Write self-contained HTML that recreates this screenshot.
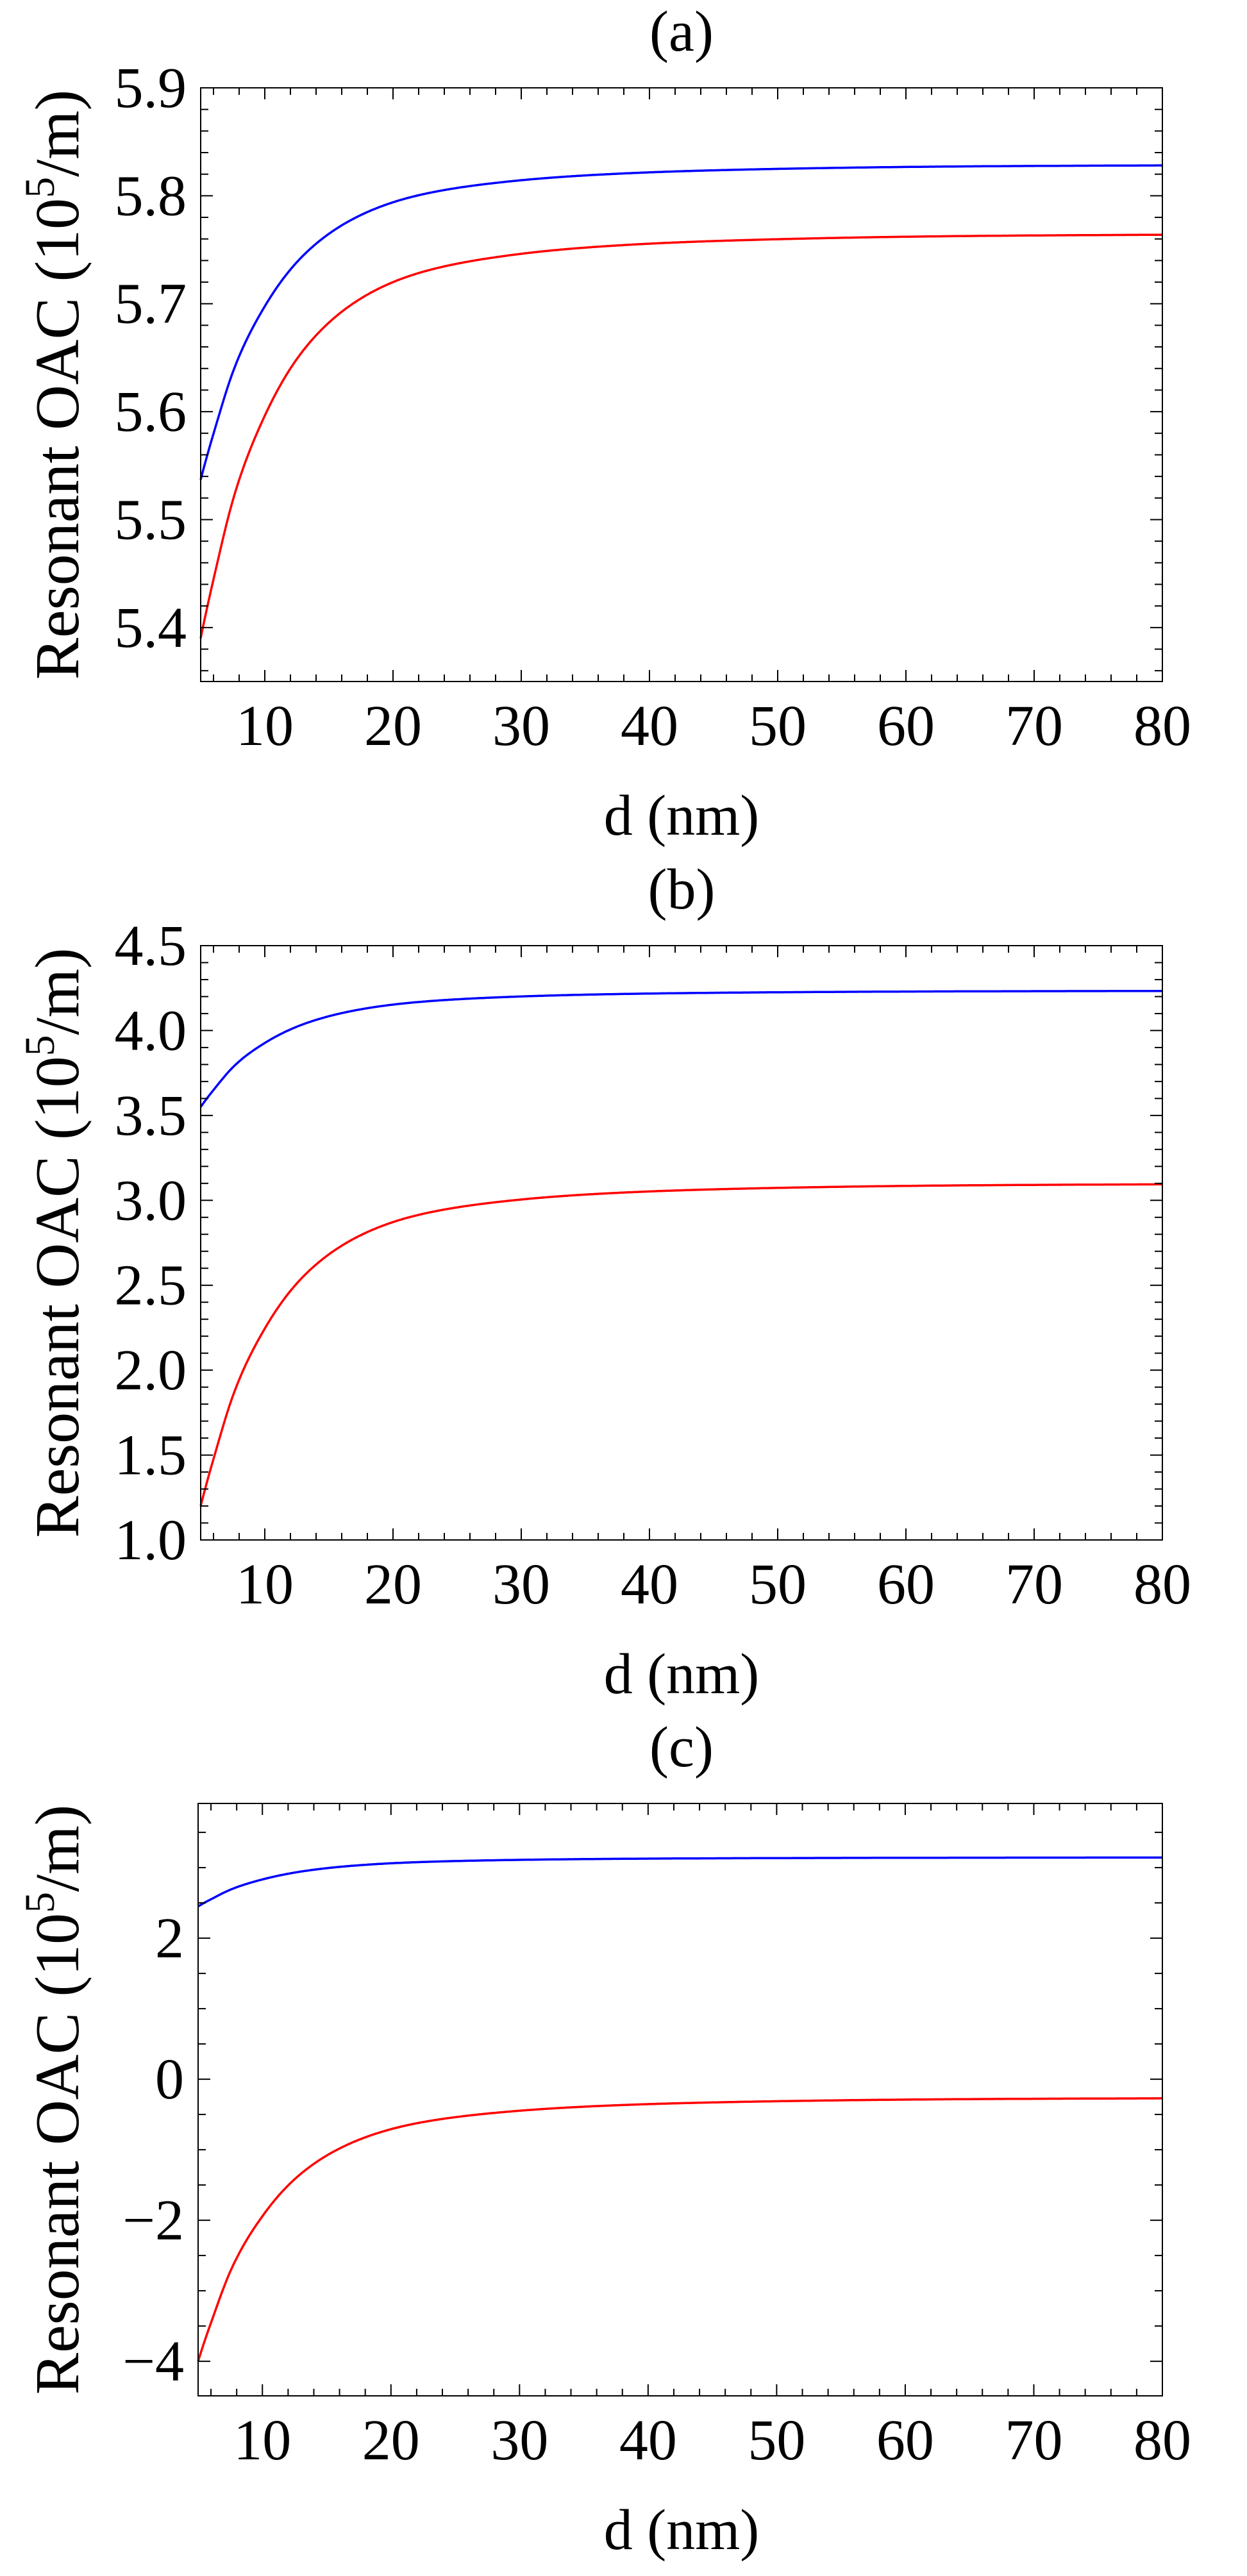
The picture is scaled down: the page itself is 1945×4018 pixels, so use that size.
<!DOCTYPE html>
<html><head><meta charset="utf-8"><style>
html,body{margin:0;padding:0;background:#fff;}
svg{display:block;}
text{font-family:"Liberation Serif",serif;fill:#000;}
</style></head><body>
<svg id="s" width="1945" height="4018" viewBox="0 0 1945 4018" xmlns="http://www.w3.org/2000/svg"></svg>
<script>
const S=document.getElementById('s');
let out='';
function mono(pts,X){
  const n=pts.length,xs=pts.map(p=>p[0]),ys=pts.map(p=>p[1]);
  const d=[],m=[];
  for(let i=0;i<n-1;i++)d.push((ys[i+1]-ys[i])/(xs[i+1]-xs[i]));
  m[0]=d[0];m[n-1]=d[n-2];
  for(let i=1;i<n-1;i++){m[i]=(d[i-1]*d[i]<=0)?0:(d[i-1]*(xs[i+1]-xs[i])+d[i]*(xs[i]-xs[i-1]))/(xs[i+1]-xs[i-1]);}
  for(let i=0;i<n-1;i++){if(d[i]==0){m[i]=m[i+1]=0;continue;}const a=m[i]/d[i],b=m[i+1]/d[i],h=a*a+b*b;if(h>9){const t=3/Math.sqrt(h);m[i]=t*a*d[i];m[i+1]=t*b*d[i];}}
  let i=0;while(i<n-2&&X>xs[i+1])i++;
  const h=xs[i+1]-xs[i],t=(X-xs[i])/h,t2=t*t,t3=t2*t;
  return (2*t3-3*t2+1)*ys[i]+(t3-2*t2+t)*h*m[i]+(-2*t3+3*t2)*ys[i+1]+(t3-t2)*h*m[i+1];
}
// build points from asymptote and deficit profile (log-interpolated for smoothness)
function prof(Yinf,sign,dp){
  const lp=dp.map(p=>[p[0],Math.log(p[1])]);
  return X=>Yinf-sign*Math.exp(mono(lp,X));
}
function plot(o){
  const L=o.L,R=1813,T=o.T,B=o.B;
  const sx=x=>L+(x-5)*(R-L)/75, sy=y=>B-(y-o.ymin)*(B-T)/(o.ymax-o.ymin);
  let g='';
  for(const c of o.curves){
    let p='';
    for(let X=5;X<=80.001;X+=0.1){p+=(p?'L':'M')+sx(X).toFixed(1)+','+sy(c.f(X)).toFixed(1);}
    g+=`<path d="${p}" fill="none" stroke="${c.col}" stroke-width="3.5"/>`;
  }
  g+=`<rect x="${L}" y="${T}" width="${R-L}" height="${B-T}" fill="none" stroke="#000" stroke-width="2"/>`;
  for(let x=6;x<=80;x+=2){const X=sx(x),maj=x%10==0,len=maj?18:11;
    g+=`<line x1="${X}" y1="${B}" x2="${X}" y2="${B-len}" stroke="#000" stroke-width="2"/><line x1="${X}" y1="${T}" x2="${X}" y2="${T+len}" stroke="#000" stroke-width="2"/>`;
    if(maj)g+=`<text x="${X}" y="${B+99}" font-size="90" text-anchor="middle">${x}</text>`;}
  const nmin=Math.ceil(o.ymin/o.minor-1e-6),nmax=Math.floor(o.ymax/o.minor+1e-6);
  for(let k=nmin;k<=nmax;k++){const v=k*o.minor,Y=sy(v);const r=v/o.major;const maj=Math.abs(r-Math.round(r))<1e-6;const len=maj?19:12;
    g+=`<line x1="${L}" y1="${Y}" x2="${L+len}" y2="${Y}" stroke="#000" stroke-width="2"/><line x1="${R}" y1="${Y}" x2="${R-len}" y2="${Y}" stroke="#000" stroke-width="2"/>`;
    if(maj){g+=`<text x="${L-22}" y="${Y+30}" font-size="90" text-anchor="end">${o.fmt(v)}</text>`;}}
  g+=`<text x="1063" y="${B+239}" font-size="90" text-anchor="middle">d (nm)</text>`;
  g+=`<text x="1063" y="${T-58}" font-size="90" text-anchor="middle">${o.title}</text>`;
  const cy=(T+B)/2;
  g+=`<text transform="translate(122,${cy}) rotate(-90)" font-size="98" text-anchor="middle">Resonant OAC (10<tspan dy="-38" font-size="66">5</tspan><tspan dy="38">/m)</tspan></text>`;
  out+=g;
}
const dpA=[[5,1],[6.25,0.82],[7.5,0.66],[10,0.45],[12.5,0.31],[15,0.22],[20,0.12],[30,0.05],[40,0.025],[50,0.014],[65,0.006],[80,0.003]];
plot({L:313,T:137,B:1063,ymin:5.35,ymax:5.9,minor:0.02,major:0.1,fmt:v=>v.toFixed(1),title:'(a)',
 curves:[
  {col:'#0000ff',f:prof(5.829,1,dpA.map(p=>[p[0],p[1]*0.292]))},
  {col:'#ff0000',f:prof(5.765,1,dpA.map(p=>[p[0],p[1]*0.375]))}]});
plot({L:313,T:1475,B:2402,ymin:1.0,ymax:4.5,minor:0.1,major:0.5,fmt:v=>v.toFixed(1),title:'(b)',
 curves:[
  {col:'#0000ff',f:prof(4.235,1,dpA.map(p=>[p[0],p[1]*0.685]))},
  {col:'#ff0000',f:prof(3.10,1,dpA.map(p=>[p[0],p[1]*1.90]))}]});
plot({L:309,T:2813,B:3737,ymin:-4.49,ymax:3.91,minor:0.5,major:2,fmt:v=>(v<0?'\u2212':'')+Math.abs(Math.round(v)),title:'(c)',
 curves:[
  {col:'#0000ff',f:prof(3.145,1,dpA.map(p=>[p[0],p[1]*0.695]))},
  {col:'#ff0000',f:prof(-0.26,1,dpA.map(p=>[p[0],p[1]*3.74]))}]});
S.innerHTML=out;
</script>
</body></html>
